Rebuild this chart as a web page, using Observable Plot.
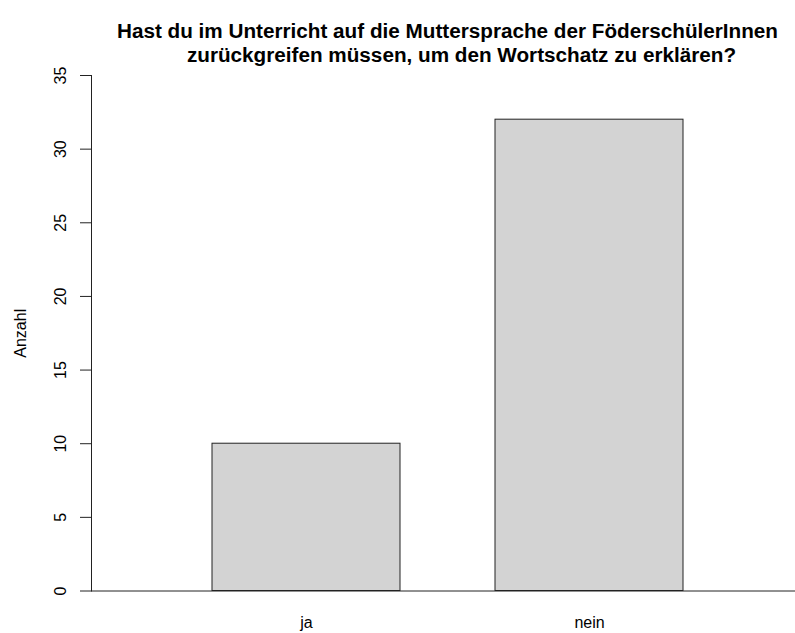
<!DOCTYPE html>
<html>
<head>
<meta charset="utf-8">
<script src="https://cdn.jsdelivr.net/npm/d3@7"></script>
<script src="https://cdn.jsdelivr.net/npm/@observablehq/plot@0.6"></script>
<style>
  html, body { margin: 0; padding: 0; background: #fff; }
</style>
</head>
<body>
<div id="chart"></div>
<script>
const categories = ["ja", "nein"];
const counts = [10, 32];
const yTicks = [0, 5, 10, 15, 20, 25, 30, 35];
const titleLine1 = "Hast du im Unterricht auf die Muttersprache der FöderschülerInnen";
const titleLine2 = "zurückgreifen müssen, um den Wortschatz zu erklären?";
const yLabel = "Anzahl";

const data = categories.map((c, i) => ({cat: c, n: counts[i]}));

const chart = Plot.plot({
  width: 795,
  height: 633,
  marginLeft: 91,
  marginRight: 0,
  marginTop: 75,
  marginBottom: 42.5,
  style: {fontFamily: "'Liberation Sans', Arial, sans-serif", color: "black", background: "white"},
  x: {type: "band", domain: categories, range: [211, 684], paddingInner: 0.3345, paddingOuter: 0, axis: null},
  y: {domain: [0, 35], axis: null},
  marks: [
    Plot.barY(data, {x: "cat", y: "n", fill: "#d3d3d3", stroke: "#222", strokeWidth: 1}),
    Plot.ruleY([0], {stroke: "#222", strokeWidth: 1}),
    Plot.frame({anchor: "left", stroke: "#222", strokeWidth: 1}),
    Plot.axisY({ticks: yTicks, tickSize: 11, tickFormat: () => "", stroke: "#222", label: null}),
    Plot.text(yTicks, {y: d => d, text: d => String(d), frameAnchor: "left", dx: -31, rotate: -90, textAnchor: "middle", fontSize: 16, fill: "black"}),
    Plot.axisX({tickSize: 0, tickPadding: 26, fontSize: 16, label: null, fill: "black"}),
    Plot.text([yLabel], {frameAnchor: "left", dx: -70.5, rotate: -90, textAnchor: "middle", fontSize: 16, fill: "black"}),
    Plot.text([titleLine1], {frameAnchor: "top-left", dx: 356, dy: -52, textAnchor: "middle", fontSize: 20.7, fontWeight: "bold", fill: "black"}),
    Plot.text([titleLine2], {frameAnchor: "top-left", dx: 370, dy: -28, textAnchor: "middle", fontSize: 20.7, fontWeight: "bold", fill: "black"})
  ]
});
document.getElementById("chart").appendChild(chart);
</script>
</body>
</html>
